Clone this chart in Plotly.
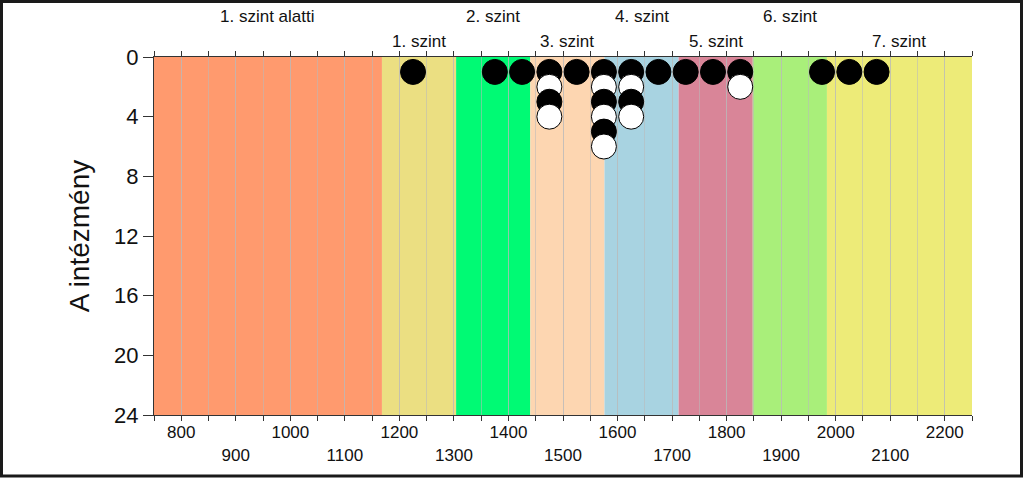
"""Intézmények eloszlása képességszintek szerint."""

import plotly.graph_objects as go

# képességszint-határok (skálapont)
szint_hatarok = [750, 1168, 1304, 1440, 1576, 1712, 1848, 1984, 2250]
szint_nevek = [
    "1. szint alatti", "1. szint", "2. szint", "3. szint",
    "4. szint", "5. szint", "6. szint", "7. szint",
]
szint_szinek = [
    "#FF9A6E", "#EBDF82", "#00FA74", "#FDD6B1",
    "#A8D3E1", "#D98598", "#A9EF7A", "#EDEB78",
]

# intézmények: fekete és fehér pontok (x = skálapont, y = sorszám az oszlopban)
fekete_x = [1225, 1375, 1425, 1475, 1475, 1525, 1575, 1575, 1575,
            1625, 1625, 1675, 1725, 1775, 1825, 1975, 2025, 2075]
fekete_y = [1, 1, 1, 1, 3, 1, 1, 3, 5, 1, 3, 1, 1, 1, 1, 1, 1, 1]
feher_x = [1475, 1475, 1575, 1575, 1575, 1625, 1625, 1825]
feher_y = [2, 4, 2, 4, 6, 2, 4, 2]

also_tickek = list(range(800, 2201, 100))
also_feliratok = [str(v) if (v // 100) % 2 == 0 else "<br>" + str(v) for v in also_tickek]

# pontok rajzolási sorrendje: fentről lefelé, hogy az átfedés egyezzen
pontok = [(x, y, "#000000") for x, y in zip(fekete_x, fekete_y)]
pontok += [(x, y, "#FFFFFF") for x, y in zip(feher_x, feher_y)]
pontok.sort(key=lambda p: p[1])

fig = go.Figure()
fig.add_trace(
    go.Scatter(
        x=[p[0] for p in pontok],
        y=[p[1] for p in pontok],
        mode="markers",
        marker=dict(
            size=25,
            color=[p[2] for p in pontok],
            line=dict(color="#000000", width=1),
        ),
        showlegend=False,
        hoverinfo="skip",
    )
)

for i, nev in enumerate(szint_nevek):
    x0, x1 = szint_hatarok[i], szint_hatarok[i + 1]
    fig.add_shape(
        type="rect", xref="x", yref="paper",
        x0=x0, x1=x1, y0=0, y1=1,
        fillcolor=szint_szinek[i], line_width=0, layer="below",
    )
    fig.add_annotation(
        x=(x0 + x1) / 2, xref="x",
        y=1.0 + (0.113 if i % 2 == 0 else 0.043), yref="paper",
        text=nev, showarrow=False,
        font=dict(size=17, color="#111111"),
        yanchor="middle",
    )

# keret a teljes kép körül
pl, pr, pt, pb = 154, 972, 57, 415
w, h = pr - pl, pb - pt
fig.add_shape(
    type="rect", xref="paper", yref="paper",
    x0=(1.5 - pl) / w, x1=(1021.5 - pl) / w,
    y0=-(476 - pb) / h, y1=1 + (pt - 1.5) / h,
    line=dict(color="#1a1a1a", width=3), fillcolor="rgba(0,0,0,0)",
)

racs = "rgba(185,185,185,0.55)"
fig.update_xaxes(
    range=[750, 2250],
    tickvals=also_tickek, ticktext=also_feliratok,
    ticks="outside", ticklen=5, tickcolor="#333333",
    ticklabelstandoff=-3,
    showline=True, linecolor="#333333", linewidth=1, mirror="ticks",
    showgrid=True, gridcolor=racs, gridwidth=1,
    minor=dict(dtick=50, tick0=750, ticks="outside", ticklen=5,
               tickcolor="#333333", showgrid=True,
               gridcolor=racs, gridwidth=1),
    tickfont=dict(size=17, color="#111111"),
    zeroline=False,
)
fig.update_yaxes(
    range=[24, 0],
    tickvals=[0, 4, 8, 12, 16, 20, 24],
    ticks="outside", ticklen=10, tickcolor="#333333",
    showline=True, linecolor="#333333", linewidth=1,
    showgrid=False, zeroline=False,
    tickfont=dict(size=22, color="#111111"),
    title=dict(text="A intézmény", font=dict(size=28, color="#111111"), standoff=16),
)

fig.update_layout(
    width=1024, height=478,
    margin=dict(l=pl, r=1024 - pr, t=pt, b=478 - pb),
    paper_bgcolor="white", plot_bgcolor="white",
    font=dict(family="Liberation Sans, Arial, sans-serif"),
)

fig.write_html(
    "out.html",
    config={"displayModeBar": False},
    post_script="document.body.style.margin='0';document.body.style.overflow='hidden';",
)
